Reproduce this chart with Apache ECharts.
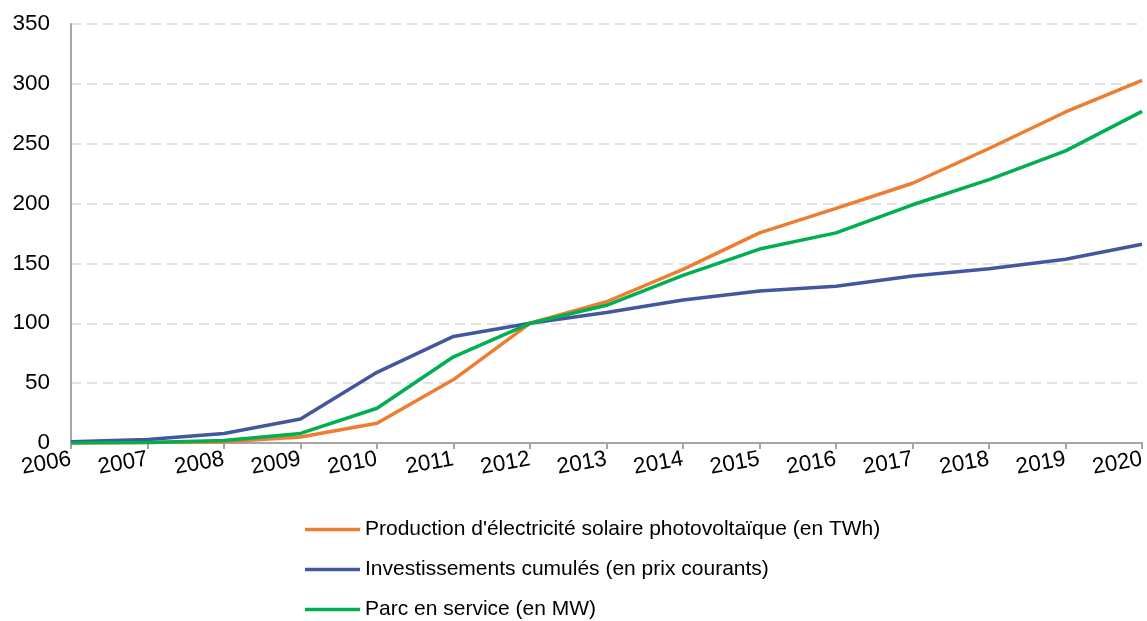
<!DOCTYPE html>
<html lang="fr">
<head>
<meta charset="utf-8">
<title>Photovoltaïque</title>
<script src="https://cdn.jsdelivr.net/npm/echarts@6/dist/echarts.min.js"></script>
</head>
<body style="margin:0">
<div id="main" style="width:1147px;height:621px;"></div>
<script type="text/javascript">
let years = ['2006','2007','2008','2009','2010','2011','2012','2013','2014','2015','2016','2017','2018','2019','2020'];
let production = [0, 0.5, 1, 5, 16.5, 53, 100, 118, 145, 175.5, 196, 217, 246, 276.5, 303];
let investissements = [1, 3, 8, 20, 59, 89, 100, 109, 119.5, 127, 131, 139.5, 145.5, 153.5, 166];
let parc = [0, 0.5, 2, 8, 29, 72, 100, 115, 140, 162, 175.5, 199, 220, 244, 277];
let seriesNames = [
    "Production d'électricité solaire photovoltaïque (en TWh)",
    'Investissements cumulés (en prix courants)',
    'Parc en service (en MW)'
];
let colors = ['#ED7D31', '#44579E', '#00B050'];

let myChart = echarts.init(document.getElementById('main'));

function mkSeries(name, data, color) {
    return {
        name: name, type: 'line', data: data, symbol: 'none',
        lineStyle: { color: color, width: 3.5 }, itemStyle: { color: color }
    };
}

let options = {
    animation: false,
    textStyle: { fontFamily: 'Liberation Sans, Arial, sans-serif' },
    grid: { left: 71, right: 4, top: 24, bottom: 178 },
    xAxis: {
        type: 'category', data: years, boundaryGap: false,
        axisLine: { lineStyle: { color: '#A6A6A6', width: 2 } },
        axisTick: { show: true, length: 6, lineStyle: { color: '#A6A6A6', width: 2 } },
        axisLabel: { rotate: 10, color: '#000', fontSize: 22.5, margin: 16, interval: 0 }
    },
    yAxis: {
        type: 'value', min: 0, max: 350, interval: 50,
        axisLine: { show: true, lineStyle: { color: '#A6A6A6', width: 2 } },
        axisTick: { show: false },
        axisLabel: { color: '#000', fontSize: 22.5, margin: 21 },
        splitLine: { lineStyle: { color: '#D9D9D9', type: [10, 6], width: 1.5 } }
    },
    legend: {
        orient: 'vertical', left: 305, top: 519, itemGap: 19, padding: 0,
        icon: 'rect', itemWidth: 55, itemHeight: 3.5,
        textStyle: { color: '#000', fontSize: 21 },
        data: seriesNames
    },
    series: [
        mkSeries(seriesNames[0], production, colors[0]),
        mkSeries(seriesNames[1], investissements, colors[1]),
        mkSeries(seriesNames[2], parc, colors[2])
    ]
};
myChart.setOption(options);
</script>
</body>
</html>
